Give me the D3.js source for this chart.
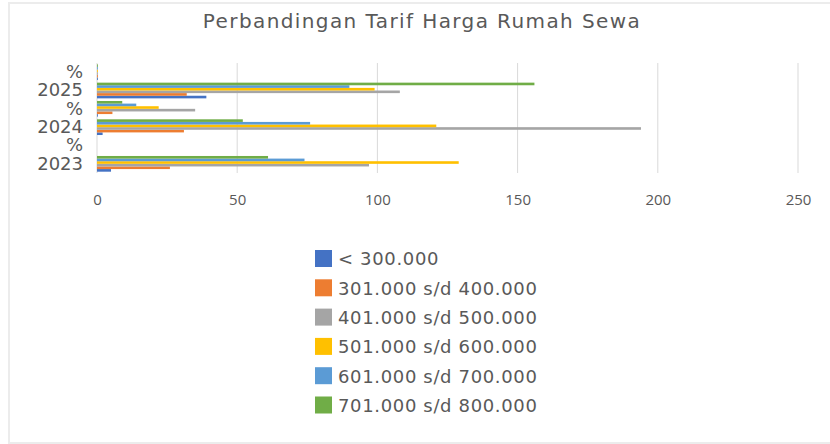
<!DOCTYPE html>
<html>
<head>
<meta charset="utf-8">
<script src="https://cdn.jsdelivr.net/npm/d3@7"></script>
<style>
  body { margin: 0; background: #fff; }
  svg { display: block; font-family: "DejaVu Sans", sans-serif; }
</style>
</head>
<body>
<div id="chart"></div>
<script>
// categories on the vertical axis, bottom to top (as Excel draws them)
const categories = ["2023", "%", "2024", "%", "2025", "%"];
const seriesNames = [
  "< 300.000",
  "301.000 s/d 400.000",
  "401.000 s/d 500.000",
  "501.000 s/d 600.000",
  "601.000 s/d 700.000",
  "701.000 s/d 800.000"
];
// one array per series, one value per category (same order as categories)
const s300 = [5, 0, 2, 0.3, 39, 0.3];
const s400 = [26, 0, 31, 5.5, 32, 0.3];
const s500 = [97, 0, 194, 35, 108, 0.3];
const s600 = [129, 0, 121, 22, 99, 0.3];
const s700 = [74, 0, 76, 14, 90, 0.3];
const s800 = [61, 0, 52, 9, 156, 0.3];
const seriesValues = [s300, s400, s500, s600, s700, s800];
const xTicks = [0, 50, 100, 150, 200, 250];
const colors = ["#4472C4", "#ED7D31", "#A5A5A5", "#FFC000", "#5B9BD5", "#70AD47"];

const W = 830, H = 444;
const plot = { left: 97, right: 798, top: 63, bottom: 173 };

const svg = d3.select("#chart").append("svg")
  .attr("width", W)
  .attr("height", H);

// faint chart frame
svg.append("rect")
  .attr("x", 9).attr("y", 3)
  .attr("width", W + 10).attr("height", H - 4)
  .attr("fill", "#fff")
  .attr("stroke", "#ececec")
  .attr("stroke-width", 2);

// title
svg.append("text")
  .attr("x", 422)
  .attr("y", 28)
  .attr("text-anchor", "middle")
  .style("font-size", "20px")
  .style("letter-spacing", "1.4px")
  .style("fill", "#595959")
  .text("Perbandingan Tarif Harga Rumah Sewa");

// scales
const x = d3.scaleLinear()
  .domain([0, 250])
  .range([plot.left, plot.right]);

const y0 = d3.scaleBand()
  .domain(d3.range(categories.length))
  .range([plot.bottom, plot.top]);

// inside a group the first series sits at the bottom
const y1 = d3.scaleBand()
  .domain(d3.range(seriesNames.length).reverse())
  .range([0, y0.bandwidth()])
  .paddingOuter(0.5);

// gridlines
svg.append("g")
  .selectAll("line")
  .data(xTicks)
  .join("line")
  .attr("x1", d => x(d)).attr("x2", d => x(d))
  .attr("y1", plot.top).attr("y2", plot.bottom)
  .attr("stroke", "#d9d9d9")
  .attr("stroke-width", 1);

// x axis labels
const xAxis = svg.append("g")
  .attr("transform", "translate(0," + plot.bottom + ")")
  .call(d3.axisBottom(x).tickValues(xTicks).tickSize(0).tickPadding(21));
xAxis.select(".domain").remove();
xAxis.selectAll("text")
  .style("font-size", "15px")
  .style("font-family", "Open Sans, sans-serif")
  .style("fill", "#595959");

// category labels
const yAxis = svg.append("g")
  .attr("transform", "translate(" + (plot.left - 14) + ",0)")
  .call(d3.axisLeft(y0).tickSize(0).tickPadding(0).tickFormat(i => categories[i]));
yAxis.select(".domain").remove();
yAxis.selectAll("text")
  .style("font-size", "18px")
  .style("font-family", "DejaVu Sans, sans-serif")
  .style("fill", "#595959");

// bars
const groups = svg.append("g")
  .selectAll("g")
  .data(categories.map((c, i) => i))
  .join("g")
  .attr("transform", i => "translate(0," + y0(i) + ")");

groups.selectAll("rect")
  .data(i => seriesValues.map((vals, s) => ({ s: s, v: vals[i] })))
  .join("rect")
  .attr("x", x(0))
  .attr("y", d => y1(d.s))
  .attr("width", d => x(d.v) - x(0))
  .attr("height", y1.bandwidth())
  .attr("fill", d => colors[d.s]);

// legend
const legend = svg.append("g")
  .attr("transform", "translate(315,250)");

const items = legend.selectAll("g")
  .data(seriesNames)
  .join("g")
  .attr("transform", (d, i) => "translate(0," + (i * 29.3) + ")");

items.append("rect")
  .attr("width", 17)
  .attr("height", 17)
  .attr("fill", (d, i) => colors[i]);

items.append("text")
  .attr("x", 23)
  .attr("y", 9)
  .attr("dy", "0.35em")
  .style("font-size", "18px")
  .style("letter-spacing", "0.65px")
  .style("fill", "#595959")
  .text(d => d);
</script>
</body>
</html>
